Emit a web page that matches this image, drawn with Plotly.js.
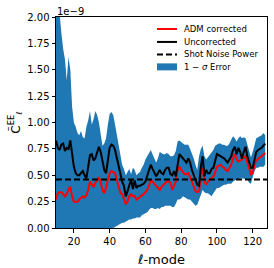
<!DOCTYPE html>
<html><head><meta charset="utf-8">
<script src="https://cdn.plot.ly/plotly-3.0.1.min.js"></script>
<style>html,body{margin:0;padding:0;background:#fff;}#chart{width:274px;height:268px;}</style>
</head><body><div id="chart"></div>
<script>
// multipole ell values
var ell = [10,11,12,13,14,15,16,17,18,19,20,21,22,23,24,25,26,27,28,29,30,31,32,33,34,35,36,37,38,39,40,41,42,43,44,45,46,47,48,49,50,51,52,53,54,55,56,57,58,59,60,61,62,63,64,65,66,67,68,69,70,71,72,73,74,75,76,77,78,79,80,81,82,83,84,85,86,87,88,89,90,91,92,93,94,95,96,97,98,99,100,101,102,103,104,105,106,107,108,109,110,111,112,113,114,115,116,117,118,119,120,121,122,123,124,125,126,127];
// values in units of 1e-9
var admCorrected = [0.27,0.33,0.34,0.34,0.32,0.30,0.32,0.37,0.39,0.30,0.25,0.25,0.25,0.27,0.29,0.30,0.29,0.31,0.36,0.44,0.41,0.39,0.43,0.46,0.48,0.43,0.36,0.33,0.38,0.46,0.52,0.54,0.53,0.52,0.46,0.40,0.33,0.32,0.27,0.23,0.25,0.30,0.32,0.30,0.30,0.27,0.28,0.30,0.31,0.32,0.34,0.36,0.40,0.46,0.44,0.42,0.40,0.38,0.36,0.39,0.41,0.42,0.44,0.44,0.43,0.36,0.40,0.44,0.55,0.58,0.55,0.53,0.51,0.51,0.52,0.48,0.44,0.40,0.35,0.34,0.35,0.49,0.57,0.44,0.41,0.44,0.46,0.47,0.49,0.53,0.58,0.59,0.60,0.58,0.57,0.55,0.54,0.57,0.60,0.66,0.70,0.65,0.63,0.64,0.65,0.67,0.68,0.62,0.55,0.51,0.52,0.60,0.64,0.66,0.67,0.68,0.70,0.71];
var uncorrected = [0.83,0.76,0.74,0.79,0.80,0.73,0.76,0.75,0.83,0.70,0.58,0.52,0.50,0.50,0.52,0.54,0.50,0.47,0.58,0.69,0.70,0.64,0.66,0.73,0.77,0.72,0.65,0.55,0.52,0.62,0.76,0.79,0.78,0.74,0.66,0.58,0.50,0.44,0.40,0.30,0.35,0.40,0.46,0.37,0.45,0.38,0.40,0.40,0.41,0.42,0.44,0.50,0.56,0.60,0.56,0.52,0.49,0.52,0.55,0.52,0.51,0.55,0.57,0.57,0.51,0.50,0.54,0.49,0.58,0.70,0.68,0.66,0.64,0.62,0.66,0.62,0.55,0.50,0.44,0.41,0.40,0.58,0.68,0.49,0.55,0.52,0.52,0.56,0.57,0.65,0.70,0.69,0.68,0.67,0.66,0.64,0.62,0.65,0.68,0.74,0.77,0.70,0.76,0.72,0.66,0.72,0.77,0.68,0.62,0.57,0.57,0.66,0.72,0.74,0.75,0.76,0.78,0.80];
var errUpper = [2.40,2.20,2.05,1.85,1.70,1.60,1.40,1.62,1.50,1.15,1.00,0.96,0.90,0.88,0.92,0.86,0.85,0.96,1.02,1.11,0.98,1.03,1.11,1.07,1.00,0.90,0.78,0.80,0.85,0.98,1.08,1.10,1.07,0.98,0.88,0.76,0.67,0.60,0.56,0.50,0.53,0.56,0.51,0.57,0.55,0.50,0.52,0.53,0.57,0.60,0.65,0.68,0.72,0.74,0.70,0.66,0.62,0.66,0.72,0.71,0.70,0.70,0.71,0.70,0.68,0.68,0.69,0.73,0.82,0.83,0.81,0.80,0.79,0.79,0.79,0.75,0.71,0.66,0.60,0.55,0.68,0.75,0.78,0.68,0.65,0.67,0.69,0.71,0.74,0.78,0.79,0.80,0.80,0.79,0.79,0.78,0.78,0.80,0.84,0.87,0.85,0.82,0.85,0.87,0.85,0.86,0.85,0.78,0.72,0.67,0.72,0.79,0.85,0.86,0.87,0.88,0.90,0.88];
var errLower = [-1.90,-1.60,-1.40,-1.20,-1.10,-1.00,-0.80,-0.90,-0.80,-0.60,-0.50,-0.45,-0.40,-0.38,-0.36,-0.34,-0.33,-0.35,-0.34,-0.35,-0.30,-0.30,-0.32,-0.30,-0.27,-0.24,-0.20,-0.18,-0.15,-0.12,-0.08,-0.04,0.00,0.01,0.02,0.03,0.04,0.05,0.05,0.06,0.07,0.08,0.08,0.09,0.09,0.10,0.10,0.10,0.12,0.13,0.14,0.15,0.17,0.19,0.19,0.18,0.18,0.19,0.18,0.20,0.20,0.21,0.21,0.21,0.21,0.20,0.20,0.23,0.27,0.27,0.28,0.30,0.29,0.28,0.27,0.27,0.25,0.23,0.21,0.22,0.27,0.32,0.36,0.34,0.33,0.33,0.31,0.30,0.33,0.36,0.38,0.38,0.39,0.40,0.41,0.41,0.42,0.42,0.42,0.44,0.45,0.46,0.46,0.47,0.47,0.47,0.46,0.46,0.43,0.42,0.48,0.54,0.57,0.57,0.58,0.58,0.58,0.60];
var shotNoiseX = [10, 128];
var shotNoise = [0.46, 0.46];
var xTicks = [20,40,60,80,100,120];
var yTicks = [0,0.25,0.5,0.75,1.0,1.25,1.5,1.75,2.0];
var legendNames = ['ADM corrected', 'Uncorrected', 'Shot Noise Power', '1 − <i>σ</i> Error'];

var F = 'DejaVu Sans, sans-serif';
var traces = [
  {x: ell, y: errLower, mode:'lines', line:{width:0, color:'#1f77b4'}, showlegend:false, hoverinfo:'skip'},
  {x: ell, y: errUpper, mode:'lines', line:{width:0, color:'#1f77b4'}, fill:'tonexty', fillcolor:'#1f77b4', name:legendNames[3], showlegend:false},
  {x: ell, y: admCorrected, mode:'lines', line:{color:'#ff0000', width:2}, name:legendNames[0], showlegend:false},
  {x: ell, y: uncorrected, mode:'lines', line:{color:'#000000', width:2}, name:legendNames[1], showlegend:false},
  {x: shotNoiseX, y: shotNoise, mode:'lines', line:{color:'#000000', width:2, dash:'6px,3px'}, name:legendNames[2], showlegend:false}
];

// manual legend (pixel layout converted to paper coords)
var plotL = 56, plotW = 211, plotB = 228.5, plotH = 211.5;
function px(v){ return (v - plotL) / plotW; }
function py(v){ return (plotB - v) / plotH; }
var rowsY = [29, 42, 54.5, 67];
var shapes = [
  {type:'line', xref:'paper', yref:'paper', x0:px(157), x1:px(177), y0:py(rowsY[0]), y1:py(rowsY[0]), line:{color:'#ff0000', width:2}},
  {type:'line', xref:'paper', yref:'paper', x0:px(157), x1:px(177), y0:py(rowsY[1]), y1:py(rowsY[1]), line:{color:'#000000', width:2}},
  {type:'line', xref:'paper', yref:'paper', x0:px(157), x1:px(177), y0:py(rowsY[2]), y1:py(rowsY[2]), line:{color:'#000000', width:2, dash:'6px,3px'}},
  {type:'rect', xref:'paper', yref:'paper', x0:px(157), x1:px(177), y0:py(rowsY[3]+3.5), y1:py(rowsY[3]-3.5), line:{width:0}, fillcolor:'#1f77b4'}
];
var annotations = [{xref:'paper', yref:'paper', x:0, y:1, xanchor:'left', yanchor:'bottom', text:'1e−9', showarrow:false, font:{family:F, size:10}, xshift:-1, yshift:-2}];
for (var i = 0; i < legendNames.length; i++) {
  annotations.push({xref:'paper', yref:'paper', x:px(182), y:py(rowsY[i]), xanchor:'left', yanchor:'middle', text:legendNames[i], showarrow:false, font:{family:F, size:8.5, color:'#000'}});
}

var layout = {
  width:274, height:268,
  margin:{l:56, r:7, t:17, b:40},
  paper_bgcolor:'#fff', plot_bgcolor:'#fff',
  font:{family:F, size:10, color:'#000'},
  showlegend:false,
  xaxis:{range:[10,128], tickvals:xTicks, ticks:'outside', ticklen:3.5, tickcolor:'#000', showline:true, mirror:true, linecolor:'#000', linewidth:1, showgrid:false, zeroline:false,
         title:{text:'<i>ℓ</i>-mode', font:{family:F, size:13}, standoff:9}, tickfont:{family:F, size:10}},
  yaxis:{range:[0,2], tickvals:yTicks, tickformat:'.2f', ticks:'outside', ticklen:3.5, tickcolor:'#000', showline:true, mirror:true, linecolor:'#000', linewidth:1, showgrid:false, zeroline:false,
         title:{text:'C̃<sup>EE</sup><sub>ℓ</sub>', font:{family:F, size:12}, standoff:4}, tickfont:{family:F, size:10}},
  shapes: shapes,
  annotations: annotations
};
Plotly.newPlot('chart', traces, layout, {staticPlot:true, displayModeBar:false});
</script></body></html>
